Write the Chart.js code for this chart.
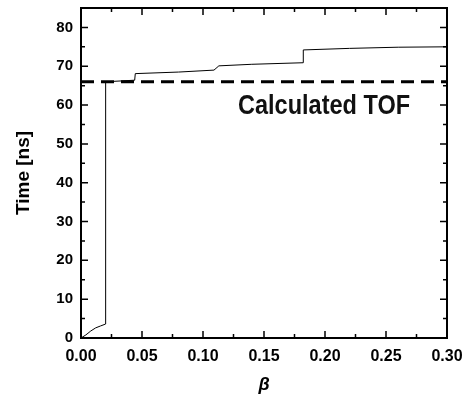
<!DOCTYPE html>
<html>
<head>
<meta charset="utf-8">
<script src="https://cdn.jsdelivr.net/npm/chart.js@4.4.0/dist/chart.umd.min.js"></script>
<style>
  html, body { margin: 0; padding: 0; background: #fff; }
  #wrap { width: 466px; height: 396px; }
</style>
</head>
<body>
<div id="wrap"><canvas id="tofChart" width="466" height="396"></canvas></div>
<script>
// data
const betaVals = [0, 0.004, 0.008, 0.012, 0.016, 0.0202, 0.0202, 0.044, 0.0445, 0.08, 0.109, 0.113, 0.14, 0.182, 0.1822, 0.22, 0.26, 0.30];
const timeVals = [0, 0.8, 1.8, 2.6, 3.1, 3.6, 66.0, 66.4, 68.1, 68.5, 69.0, 70.1, 70.5, 70.9, 74.2, 74.6, 74.9, 75.0];
const tofValue = 66;
const tofLabel = "Calculated TOF";
const xTicks = [0, 0.05, 0.10, 0.15, 0.20, 0.25, 0.30];
const xMinor = [0.025, 0.075, 0.125, 0.175, 0.225, 0.275];
const yTicks = [0, 10, 20, 30, 40, 50, 60, 70, 80];
const yMinor = [5, 15, 25, 35, 45, 55, 65, 75];

const FONT = "'Liberation Sans', Arial, sans-serif";

const frame = {
  id: "frame",
  afterDatasetsDraw(chart) {
    const { ctx, chartArea: a, scales: { x, y } } = chart;
    ctx.save();
    ctx.strokeStyle = "#000";
    ctx.lineWidth = 1.5;
    ctx.beginPath();
    const tickX = (v, len) => {
      const px = x.getPixelForValue(v);
      ctx.moveTo(px, a.bottom); ctx.lineTo(px, a.bottom - len);
      ctx.moveTo(px, a.top); ctx.lineTo(px, a.top + len);
    };
    const tickY = (v, len) => {
      const py = y.getPixelForValue(v);
      ctx.moveTo(a.left, py); ctx.lineTo(a.left + len, py);
      ctx.moveTo(a.right, py); ctx.lineTo(a.right - len, py);
    };
    xTicks.forEach(v => tickX(v, 7));
    xMinor.forEach(v => tickX(v, 4));
    yTicks.forEach(v => tickY(v, 7));
    yMinor.forEach(v => tickY(v, 4));
    ctx.stroke();
    ctx.lineWidth = 2;
    ctx.strokeRect(a.left, a.top, a.right - a.left, a.bottom - a.top);

    // annotation, placed in data coordinates
    const tx = x.getPixelForValue(0.1287);
    const ty = y.getPixelForValue(57.6);
    ctx.fillStyle = "#111";
    ctx.font = "bold 28px " + FONT;
    ctx.textBaseline = "alphabetic";
    ctx.translate(tx, ty);
    ctx.scale(0.84, 1);
    ctx.fillText(tofLabel, 0, 0);
    ctx.restore();
  }
};

new Chart(document.getElementById("tofChart"), {
  type: "scatter",
  data: {
    datasets: [
      {
        label: "TOF",
        data: [{ x: 0, y: tofValue }, { x: 0.30, y: tofValue }],
        showLine: true,
        borderColor: "#000",
        borderWidth: 3,
        borderDash: [13, 7],
        pointRadius: 0,
      },
      {
        label: "Time",
        data: betaVals.map((b, i) => ({ x: b, y: timeVals[i] })),
        showLine: true,
        borderColor: "#000",
        borderWidth: 1,
        pointRadius: 0,
        tension: 0,
      },
    ],
  },
  options: {
    responsive: false,
    animation: false,
    devicePixelRatio: 1,
    layout: { padding: { left: 0, top: 8, right: 19, bottom: 0 } },
    plugins: { legend: { display: false }, tooltip: { enabled: false } },
    scales: {
      x: {
        type: "linear",
        min: 0,
        max: 0.30,
        afterBuildTicks: (s) => { s.ticks = xTicks.map(v => ({ value: v })); },
        afterFit: (s) => { s.height = 58; s.paddingLeft = 0; s.paddingRight = 0; },
        grid: { display: false, drawTicks: false },
        border: { display: false },
        ticks: {
          color: "#000",
          padding: 9,
          maxRotation: 0,
          font: { family: FONT, size: 16, weight: "bold" },
          callback: (v) => Number(v).toFixed(2),
        },
        title: {
          display: true,
          text: "β",
          color: "#000",
          padding: { top: 0, bottom: 0 },
          font: { family: FONT, size: 18, weight: "bold", style: "italic" },
        },
      },
      y: {
        type: "linear",
        min: 0,
        max: 85,
        afterBuildTicks: (s) => { s.ticks = yTicks.map(v => ({ value: v })); },
        afterFit: (s) => { s.width = 81; s.paddingTop = 0; s.paddingBottom = 0; },
        grid: { display: false, drawTicks: false },
        border: { display: false },
        ticks: {
          color: "#000",
          padding: 8,
          font: { family: FONT, size: 15, weight: "bold" },
        },
        title: {
          display: true,
          text: "Time [ns]",
          color: "#000",
          padding: { top: 12, bottom: 0 },
          font: { family: FONT, size: 19, weight: "bold" },
        },
      },
    },
  },
  plugins: [frame],
});
</script>
</body>
</html>
